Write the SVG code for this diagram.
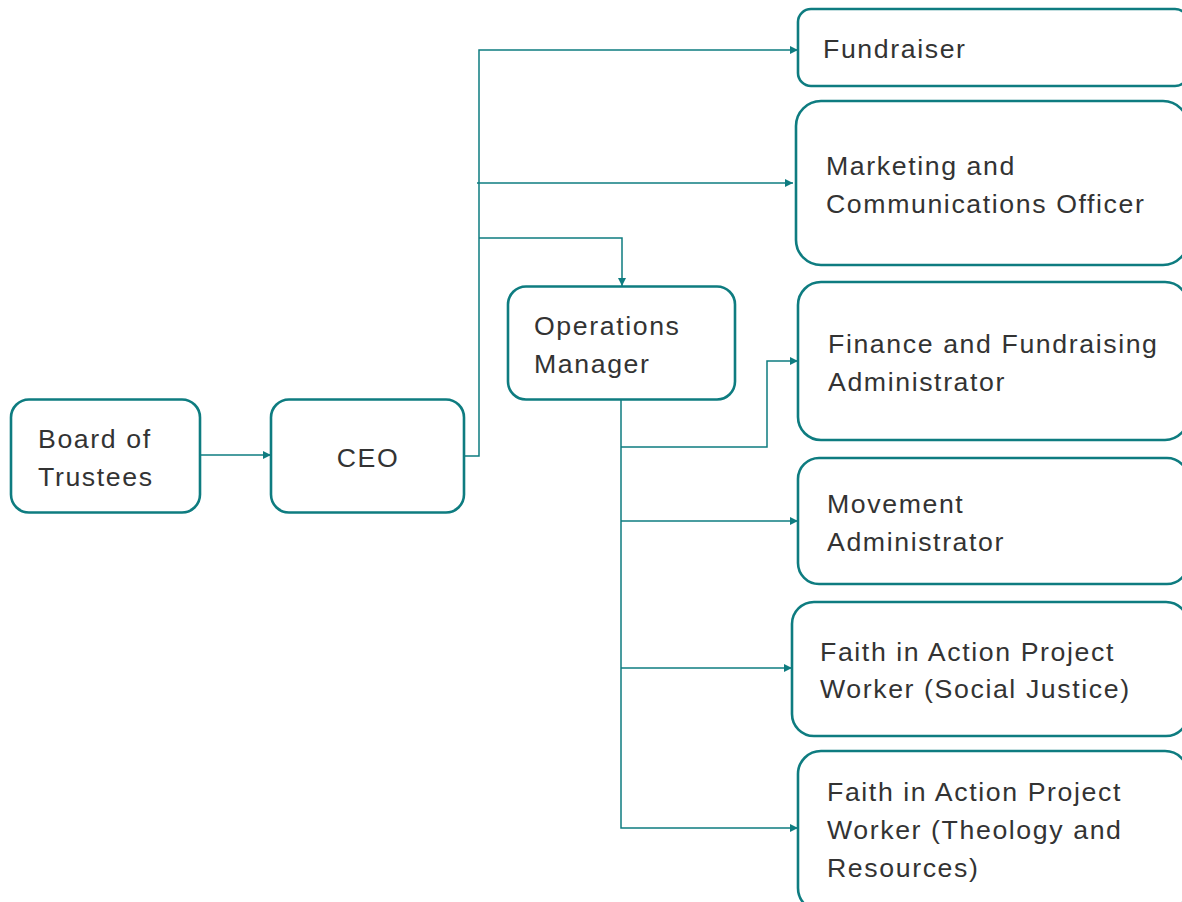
<svg xmlns="http://www.w3.org/2000/svg" width="1182" height="902" viewBox="0 0 1182 902">
<style>
.box{fill:#fff;stroke:#0e7c80;stroke-width:2.6}
.t{font-family:"Liberation Sans",Arial,sans-serif;font-size:26.7px;letter-spacing:1.6px;fill:#333}
.c{fill:none;stroke:#0e7c80;stroke-width:1.5}
</style>
<defs>
<marker id="a" viewBox="0 0 10 10" refX="10" refY="5" markerWidth="8" markerHeight="8" markerUnits="userSpaceOnUse" orient="auto">
<path d="M0,0 L10,5 L0,10 Z" fill="#0e7c80"/>
</marker>
</defs>
<rect width="1182" height="902" fill="#fff"/>
<g id="connectors">
<path class="c" d="M200,455 H271" marker-end="url(#a)"/>
<path class="c" d="M464,456 H479 V50 H798" marker-end="url(#a)"/>
<path class="c" d="M477,183 H793" marker-end="url(#a)"/>
<path class="c" d="M479,238 H622 V286" marker-end="url(#a)"/>
<path class="c" d="M621,400 V828 H798" marker-end="url(#a)"/>
<path class="c" d="M621,447 H767 V361 H798" marker-end="url(#a)"/>
<path class="c" d="M621,521 H798" marker-end="url(#a)"/>
<path class="c" d="M621,668 H792" marker-end="url(#a)"/>
</g>
<g id="board">
<rect class="box" x="11" y="399.5" width="189" height="113" rx="18"/>
<text class="t" x="38" y="448">Board of</text>
<text class="t" x="38" y="486">Trustees</text>
</g>
<g id="ceo">
<rect class="box" x="271" y="399.5" width="193" height="113" rx="18"/>
<text class="t" x="368" y="467" text-anchor="middle">CEO</text>
</g>
<g id="ops">
<rect class="box" x="508" y="286.5" width="227" height="113" rx="18"/>
<text class="t" x="534" y="335">Operations</text>
<text class="t" x="534" y="373">Manager</text>
</g>
<g id="fundraiser">
<rect class="box" x="798" y="9" width="390" height="77" rx="13"/>
<text class="t" x="823" y="58">Fundraiser</text>
</g>
<g id="marketing">
<rect class="box" x="796" y="101" width="392" height="164" rx="25"/>
<text class="t" x="826" y="175">Marketing and</text>
<text class="t" x="826" y="213">Communications Officer</text>
</g>
<g id="finance">
<rect class="box" x="798" y="282" width="390" height="158" rx="23"/>
<text class="t" x="828" y="353">Finance and Fundraising</text>
<text class="t" x="828" y="391">Administrator</text>
</g>
<g id="movement">
<rect class="box" x="798" y="458" width="390" height="126" rx="21"/>
<text class="t" x="827" y="513">Movement</text>
<text class="t" x="827" y="551">Administrator</text>
</g>
<g id="faith-social">
<rect class="box" x="792" y="602" width="396" height="134" rx="22"/>
<text class="t" x="820" y="661">Faith in Action Project</text>
<text class="t" x="820" y="698">Worker (Social Justice)</text>
</g>
<g id="faith-theology">
<rect class="box" x="798" y="751" width="390" height="160" rx="23"/>
<text class="t" x="827" y="801">Faith in Action Project</text>
<text class="t" x="827" y="839">Worker (Theology and</text>
<text class="t" x="827" y="877">Resources)</text>
</g>
</svg>
